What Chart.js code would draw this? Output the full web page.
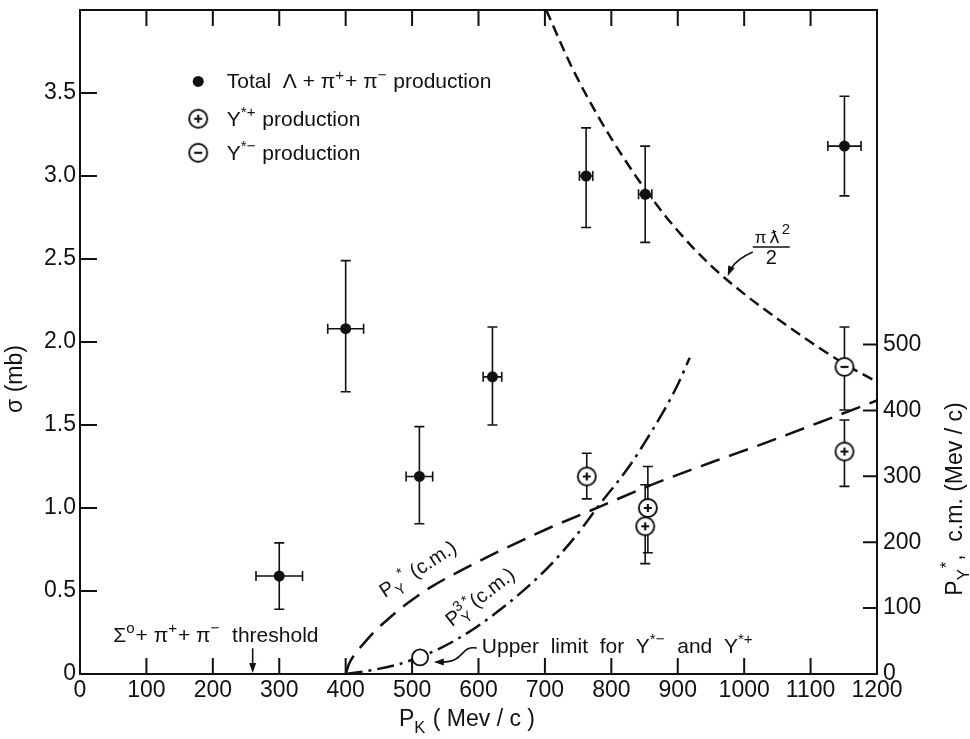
<!DOCTYPE html>
<html>
<head>
<meta charset="utf-8">
<script src="https://cdn.jsdelivr.net/npm/chart.js@4"></script>
<style>
  html, body { margin: 0; padding: 0; background: #fff; }
  canvas { display: block; }
</style>
</head>
<body>
<canvas id="chart" width="970" height="739"></canvas>
<script>
// total Λ + π+ + π- production (sigma in mb, errors)
const totalP = [300, 400, 511, 621, 762, 851, 1151];
const totalSigma = [0.59, 2.08, 1.19, 1.79, 3.00, 2.89, 3.18];
const totalLo = [0.39, 1.70, 0.905, 1.50, 2.69, 2.60, 2.88];
const totalHi = [0.79, 2.49, 1.49, 2.09, 3.29, 3.18, 3.48];
const totalPErr = [35, 27, 20, 14, 10, 10, 25];

// Y*+ production
const plusP = [763, 855, 851, 1151];
const plusSigma = [1.19, 1.00, 0.89, 1.34];
const plusLo = [1.055, 0.73, 0.665, 1.13];
const plusHi = [1.33, 1.25, 1.14, 1.53];

// Y*- production
const minusP = [1151];
const minusSigma = [1.85];
const minusLo = [1.59];
const minusHi = [2.09];

// upper limit for Y*- and Y*+
const limitP = [512];
const limitSigma = [0.10];

// pi lambda-bar^2 / 2 curve (mb)
const lambdaP = [702, 740, 780, 820, 860, 900, 950, 1000, 1050, 1100, 1150, 1200];
const lambdaSigma = [4.00, 3.66, 3.36, 3.10, 2.87, 2.67, 2.46, 2.29, 2.14, 2.00, 1.87, 1.76];

// P_Y* (c.m.) curve, right axis (Mev/c)
const pyP = [400, 405, 415, 426, 445, 467, 490, 527, 587, 637, 703, 783, 863, 953, 1030, 1114, 1200];
const pyVal = [0, 15, 32, 45, 66, 86, 105, 131, 164, 189, 220, 254, 288, 322, 350, 382, 415];

// P^3_Y* (c.m.) curve, arbitrary units on the right axis
const py3P = [400, 440, 477, 512, 542, 583, 620, 660, 703, 743, 783, 824, 863, 899, 918];
const py3Val = [0, 6, 14, 26, 39, 62, 88, 120, 160, 205, 258, 311, 372, 437, 480];

const xTicks = [0, 100, 200, 300, 400, 500, 600, 700, 800, 900, 1000, 1100, 1200];
const sigmaTicks = [0, 0.5, 1.0, 1.5, 2.0, 2.5, 3.0, 3.5];
const pyTicks = [0, 100, 200, 300, 400, 500];

const FONT = "'Liberation Sans', 'DejaVu Sans', Arial, sans-serif";
const INK = '#111';

const pts = (xs, ys) => xs.map((x, i) => ({ x: x, y: ys[i] }));

function ring(sign) {
  const c = document.createElement('canvas');
  c.width = 24; c.height = 24;
  const g = c.getContext('2d');
  g.beginPath();
  g.arc(12, 12, 9, 0, Math.PI * 2);
  g.fillStyle = '#fff';
  g.fill();
  g.lineWidth = 1.9;
  g.strokeStyle = INK;
  g.stroke();
  g.lineWidth = 2.2;
  g.beginPath();
  g.moveTo(8, 12); g.lineTo(16, 12);
  if (sign === '+') { g.moveTo(12, 8); g.lineTo(12, 16); }
  g.stroke();
  return c;
}
const plusMark = ring('+');
const minusMark = ring('-');

// draws text made of segments: [text], [text,'sup'], [text,'sub'], [[sup,sub],'ss']
function rich(ctx, segs, x, y, size, measureOnly) {
  let cx = x;
  const small = size * 0.72;
  for (const [t, k] of segs) {
    if (k === 'sup' || k === 'sub') {
      ctx.font = small + 'px ' + FONT;
      const dy = k === 'sup' ? -size * 0.42 : size * 0.3;
      if (!measureOnly) ctx.fillText(t, cx, y + dy);
      cx += ctx.measureText(t).width + 1;
    } else if (k === 'ss') {
      ctx.font = small + 'px ' + FONT;
      if (!measureOnly) {
        ctx.fillText(t[0], cx, y - size * 0.42);
        ctx.fillText(t[1], cx, y + size * 0.3);
      }
      cx += Math.max(ctx.measureText(t[0]).width, ctx.measureText(t[1]).width) + 1;
    } else {
      ctx.font = size + 'px ' + FONT;
      if (!measureOnly) ctx.fillText(t, cx, y);
      cx += ctx.measureText(t).width;
    }
  }
  return cx - x;
}

function head(ctx, x, y, ang) {
  ctx.save();
  ctx.translate(x, y);
  ctx.rotate(ang);
  ctx.beginPath();
  ctx.moveTo(0, 0);
  ctx.lineTo(-10, -3.5);
  ctx.lineTo(-10, 3.5);
  ctx.closePath();
  ctx.fill();
  ctx.restore();
}

const decor = {
  id: 'decor',
  beforeDatasetsDraw(chart) {
    const { ctx, chartArea: a, scales: { x, y, y2 } } = chart;
    ctx.save();
    ctx.strokeStyle = INK;
    ctx.lineWidth = 2;
    ctx.strokeRect(a.left, a.top, a.right - a.left, a.bottom - a.top);
    ctx.beginPath();
    xTicks.forEach(v => {
      if (v <= 0 || v >= 1200) return;
      const px = x.getPixelForValue(v);
      ctx.moveTo(px, a.bottom); ctx.lineTo(px, a.bottom - 16);
      ctx.moveTo(px, a.top); ctx.lineTo(px, a.top + 16);
    });
    sigmaTicks.forEach(v => {
      if (v <= 0) return;
      const py = y.getPixelForValue(v);
      ctx.moveTo(a.left, py); ctx.lineTo(a.left + 17, py);
    });
    pyTicks.forEach(v => {
      if (v <= 0) return;
      const py = y2.getPixelForValue(v);
      ctx.moveTo(a.right, py); ctx.lineTo(a.right - 14, py);
    });
    ctx.stroke();

    // error bars
    ctx.lineWidth = 1.6;
    chart.data.datasets.forEach(ds => {
      if (!ds.errLo) return;
      ds.data.forEach((p, i) => {
        const px = x.getPixelForValue(p.x);
        const lo = y.getPixelForValue(ds.errLo[i]);
        const hi = y.getPixelForValue(ds.errHi[i]);
        ctx.beginPath();
        ctx.moveTo(px, lo); ctx.lineTo(px, hi);
        ctx.moveTo(px - 5, lo); ctx.lineTo(px + 5, lo);
        ctx.moveTo(px - 5, hi); ctx.lineTo(px + 5, hi);
        if (ds.errX) {
          const py = y.getPixelForValue(p.y);
          const l = x.getPixelForValue(p.x - ds.errX[i]);
          const r = x.getPixelForValue(p.x + ds.errX[i]);
          ctx.moveTo(l, py); ctx.lineTo(r, py);
          ctx.moveTo(l, py - 5); ctx.lineTo(l, py + 5);
          ctx.moveTo(r, py - 5); ctx.lineTo(r, py + 5);
        }
        ctx.stroke();
      });
    });
    ctx.restore();
  },
  afterDraw(chart) {
    const { ctx, chartArea: a, scales: { x, y } } = chart;
    ctx.save();
    ctx.fillStyle = INK;
    ctx.strokeStyle = INK;
    ctx.textBaseline = 'alphabetic';
    ctx.textAlign = 'left';

    // legend
    const lx = x.getPixelForValue(178), tx = x.getPixelForValue(221);
    const rows = [3.57, 3.345, 3.14].map(v => y.getPixelForValue(v));
    ctx.beginPath(); ctx.arc(lx, rows[0], 5.5, 0, Math.PI * 2); ctx.fill();
    ctx.drawImage(plusMark, lx - 12, rows[1] - 12);
    ctx.drawImage(minusMark, lx - 12, rows[2] - 12);
    rich(ctx, [['Total  Λ + π'], ['+', 'sup'], ['+ π'], ['−', 'sup'], [' production']], tx, rows[0] + 7, 21);
    rich(ctx, [['Y'], ['*+', 'sup'], [' production']], tx, rows[1] + 7, 21);
    rich(ctx, [['Y'], ['*−', 'sup'], [' production']], tx, rows[2] + 7, 21);

    // threshold
    rich(ctx, [['Σ'], ['o', 'sup'], ['+ π'], ['+', 'sup'], ['+ π'], ['−', 'sup'], ['  threshold']],
      x.getPixelForValue(50), y.getPixelForValue(0.192), 21);
    const thx = x.getPixelForValue(260);
    ctx.lineWidth = 1.6;
    ctx.beginPath();
    ctx.moveTo(thx, y.getPixelForValue(0.155));
    ctx.lineTo(thx, a.bottom - 6);
    ctx.stroke();
    head(ctx, thx, a.bottom - 1, Math.PI / 2);

    // upper limit
    const ux = x.getPixelForValue(605), uy = y.getPixelForValue(0.126);
    rich(ctx, [['Upper  limit  for  Y'], ['*−', 'sup'], ['  and  Y'], ['*+', 'sup']], ux, uy, 21);
    ctx.beginPath();
    ctx.moveTo(ux - 5, uy - 5);
    ctx.bezierCurveTo(ux - 22, uy - 8, ux - 16, uy + 9, ux - 40, uy + 9);
    ctx.stroke();
    head(ctx, ux - 48, uy + 9, Math.PI);

    // pi lambda^2 / 2
    const fx = x.getPixelForValue(1040), fy = y.getPixelForValue(2.572);
    ctx.lineWidth = 1.5;
    ctx.beginPath(); ctx.moveTo(fx - 18, fy); ctx.lineTo(fx + 19, fy); ctx.stroke();
    ctx.font = '17px ' + FONT;
    ctx.fillText('π', fx - 16, fy - 4);
    ctx.font = '19px ' + FONT;
    ctx.fillText('ƛ', fx - 1, fy - 4);
    ctx.font = '15px ' + FONT;
    ctx.fillText('2', fx + 11, fy - 13);
    ctx.font = '20px ' + FONT;
    ctx.fillText('2', fx - 5, fy + 17);
    ctx.lineWidth = 1.5;
    ctx.beginPath();
    ctx.moveTo(fx - 18, fy + 5);
    ctx.quadraticCurveTo(fx - 34, fy + 12, fx - 40, fy + 22);
    ctx.stroke();
    head(ctx, fx - 43, fy + 29, Math.PI * 0.62);

    // rotated curve labels
    const drawRot = (segs, dx, dy, deg) => {
      ctx.save();
      ctx.translate(x.getPixelForValue(dx), y.getPixelForValue(dy));
      ctx.rotate(deg * Math.PI / 180);
      rich(ctx, segs, 0, 0, 20);
      ctx.restore();
    };
    drawRot([['P'], ['Y', 'sub'], ['*', 'sup'], [' (c.m.)']], 459, 0.456, -33);
    drawRot([['P'], [['3', 'Y'], 'ss'], ['*', 'sup'], ['(c.m.)']], 560, 0.282, -38);

    // axis titles
    ctx.save();
    ctx.translate(22, 379);
    ctx.rotate(-Math.PI / 2);
    ctx.textAlign = 'center';
    ctx.font = '23px ' + FONT;
    ctx.fillText('σ (mb)', 0, 0);
    ctx.restore();

    const xs = [['P'], ['K', 'sub'], [' ( Mev / c )']];
    const xw = rich(ctx, xs, 0, 0, 23, true);
    rich(ctx, xs, 467 - xw / 2, 726, 23);

    ctx.save();
    ctx.translate(962, 499);
    ctx.rotate(-Math.PI / 2);
    const rs = [['P'], ['Y', 'sub'], ['*', 'sup'], [',  c.m. (Mev / c)']];
    const rw = rich(ctx, rs, 0, 0, 23, true);
    rich(ctx, rs, -rw / 2, 0, 23);
    ctx.restore();

    ctx.restore();
  }
};

const tickFont = { family: FONT, size: 23 };

new Chart(document.getElementById('chart').getContext('2d'), {
  type: 'scatter',
  data: {
    datasets: [
      {
        label: 'Total',
        data: pts(totalP, totalSigma),
        errLo: totalLo, errHi: totalHi, errX: totalPErr,
        pointStyle: 'circle', pointRadius: 5.5,
        backgroundColor: INK, borderColor: INK, borderWidth: 0,
        order: 0
      },
      {
        label: 'Y*+',
        data: pts(plusP, plusSigma),
        errLo: plusLo, errHi: plusHi,
        pointStyle: plusMark, pointRadius: 9,
        order: 0
      },
      {
        label: 'Y*-',
        data: pts(minusP, minusSigma),
        errLo: minusLo, errHi: minusHi,
        pointStyle: minusMark, pointRadius: 9,
        order: 0
      },
      {
        label: 'Upper limit',
        data: pts(limitP, limitSigma),
        pointStyle: 'circle', pointRadius: 8,
        backgroundColor: '#fff', borderColor: INK, borderWidth: 1.8,
        order: 0
      },
      {
        type: 'line',
        label: 'pi lambda^2 / 2',
        data: pts(lambdaP, lambdaSigma),
        borderColor: INK, borderWidth: 2.5, borderDash: [11, 6],
        pointRadius: 0, cubicInterpolationMode: 'monotone', fill: false,
        order: 1
      },
      {
        type: 'line',
        label: 'P_Y* (c.m.)',
        yAxisID: 'y2',
        data: pts(pyP, pyVal),
        borderColor: INK, borderWidth: 2.5, borderDash: [20, 10],
        pointRadius: 0, cubicInterpolationMode: 'monotone', fill: false,
        order: 1
      },
      {
        type: 'line',
        label: 'P^3_Y* (c.m.)',
        yAxisID: 'y2',
        data: pts(py3P, py3Val),
        borderColor: INK, borderWidth: 2.5, borderDash: [17, 6, 3, 6],
        pointRadius: 0, cubicInterpolationMode: 'monotone', fill: false,
        order: 1
      }
    ]
  },
  options: {
    responsive: false,
    animation: false,
    layout: { padding: { top: 7, left: 0, right: 0, bottom: 0 } },
    plugins: { legend: { display: false }, tooltip: { enabled: false } },
    scales: {
      x: {
        type: 'linear', min: 0, max: 1200,
        afterBuildTicks: s => { s.ticks = xTicks.map(v => ({ value: v })); },
        ticks: { font: tickFont, color: INK, padding: 3, maxRotation: 0, autoSkip: false, callback: v => String(v) },
        grid: { display: false, drawTicks: false },
        border: { display: false },
        afterFit: s => { s.height = 65; s.paddingLeft = 0; s.paddingRight = 0; }
      },
      y: {
        position: 'left', min: 0, max: 4,
        afterBuildTicks: s => { s.ticks = sigmaTicks.map(v => ({ value: v })); },
        ticks: { font: tickFont, color: INK, padding: 4, callback: v => v === 0 ? '0' : v.toFixed(1) },
        grid: { display: false, drawTicks: false },
        border: { display: false },
        afterFit: s => { s.width = 80; s.paddingTop = 0; s.paddingBottom = 0; }
      },
      y2: {
        position: 'right', min: 0, max: 1007.5,
        afterBuildTicks: s => { s.ticks = pyTicks.map(v => ({ value: v })); },
        ticks: { font: tickFont, color: INK, padding: 6, callback: v => String(v) },
        grid: { display: false, drawTicks: false },
        border: { display: false },
        afterFit: s => { s.width = 93; s.paddingTop = 0; s.paddingBottom = 0; }
      }
    }
  },
  plugins: [decor]
});
</script>
</body>
</html>
